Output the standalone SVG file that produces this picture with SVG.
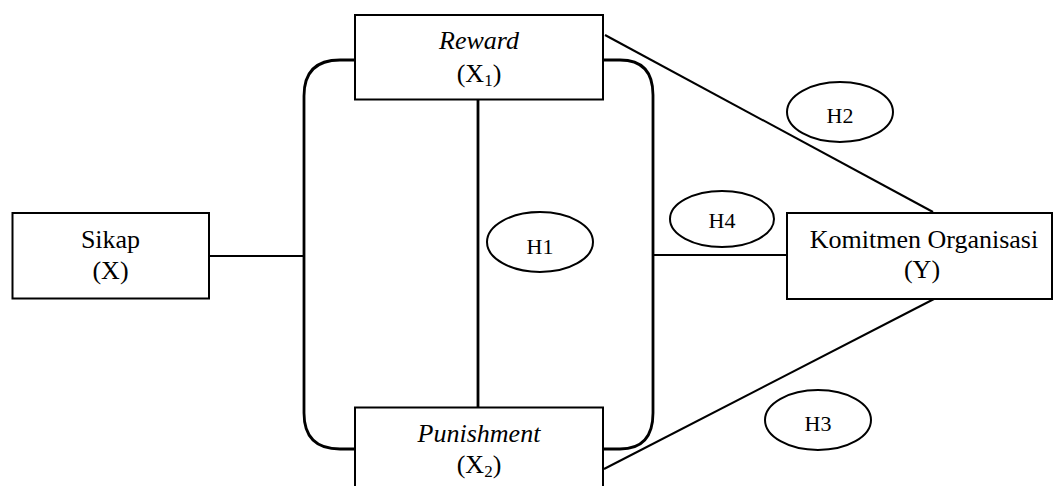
<svg xmlns="http://www.w3.org/2000/svg" width="1054" height="486" viewBox="0 0 1054 486">
<style>
.box{fill:#fff;stroke:#000;stroke-width:2}
.ell{fill:#fff;stroke:#000;stroke-width:2}
.ln{fill:none;stroke:#000;stroke-width:2}
.br{fill:none;stroke:#000;stroke-width:2.8}
.t{font-family:"Liberation Serif","Times New Roman",serif;font-size:26px;fill:#000;text-anchor:middle}
.h{font-family:"Liberation Serif","Times New Roman",serif;font-size:22px;fill:#000;text-anchor:middle}
.i{font-style:italic}
</style>
<rect width="1054" height="486" fill="#fff"/>
<g id="connectors">
<path class="br" d="M355,60 H340 Q304,60 304,96 V413 Q304,449 340,449 H355"/>
<path class="br" d="M603,60 H620 Q653,60 653,95 V413 Q653,449 620,449 H603"/>
<line class="br" x1="478" y1="99" x2="478" y2="407"/>
<line class="ln" x1="209" y1="256" x2="304" y2="256"/>
<line class="ln" x1="653" y1="255" x2="787" y2="255"/>
<line class="ln" x1="605" y1="35" x2="933" y2="212"/>
<line class="ln" x1="604" y1="469" x2="934" y2="299"/>
</g>
<g id="node-sikap">
<rect class="box" x="12.5" y="213" width="196.5" height="85.5"/>
<text class="t" x="110.5" y="248">Sikap</text>
<text class="t" x="110.5" y="279">(X)</text>
</g>
<g id="node-reward">
<rect class="box" x="355" y="15" width="248" height="84.5"/>
<text class="t i" x="479" y="49">Reward</text>
<text class="t" x="479" y="82">(X<tspan font-size="17" dy="4">1</tspan><tspan dy="-4">)</tspan></text>
</g>
<g id="node-punishment">
<rect class="box" x="355" y="407.5" width="248" height="90"/>
<text class="t i" x="479" y="442">Punishment</text>
<text class="t" x="479" y="473">(X<tspan font-size="17" dy="4">2</tspan><tspan dy="-4">)</tspan></text>
</g>
<g id="node-komitmen">
<rect class="box" x="787" y="213" width="265" height="86"/>
<text class="t" x="924" y="248">Komitmen Organisasi</text>
<text class="t" x="922" y="278">(Y)</text>
</g>
<g id="node-h1">
<ellipse class="ell" cx="540" cy="242" rx="53" ry="30"/>
<text class="h" x="540" y="254">H1</text>
</g>
<g id="node-h2">
<ellipse class="ell" cx="840" cy="112" rx="53" ry="30"/>
<text class="h" x="840" y="123">H2</text>
</g>
<g id="node-h3">
<ellipse class="ell" cx="818" cy="420" rx="53" ry="30"/>
<text class="h" x="818" y="431">H3</text>
</g>
<g id="node-h4">
<ellipse class="ell" cx="722" cy="219" rx="52" ry="28"/>
<text class="h" x="722" y="228">H4</text>
</g>
</svg>
